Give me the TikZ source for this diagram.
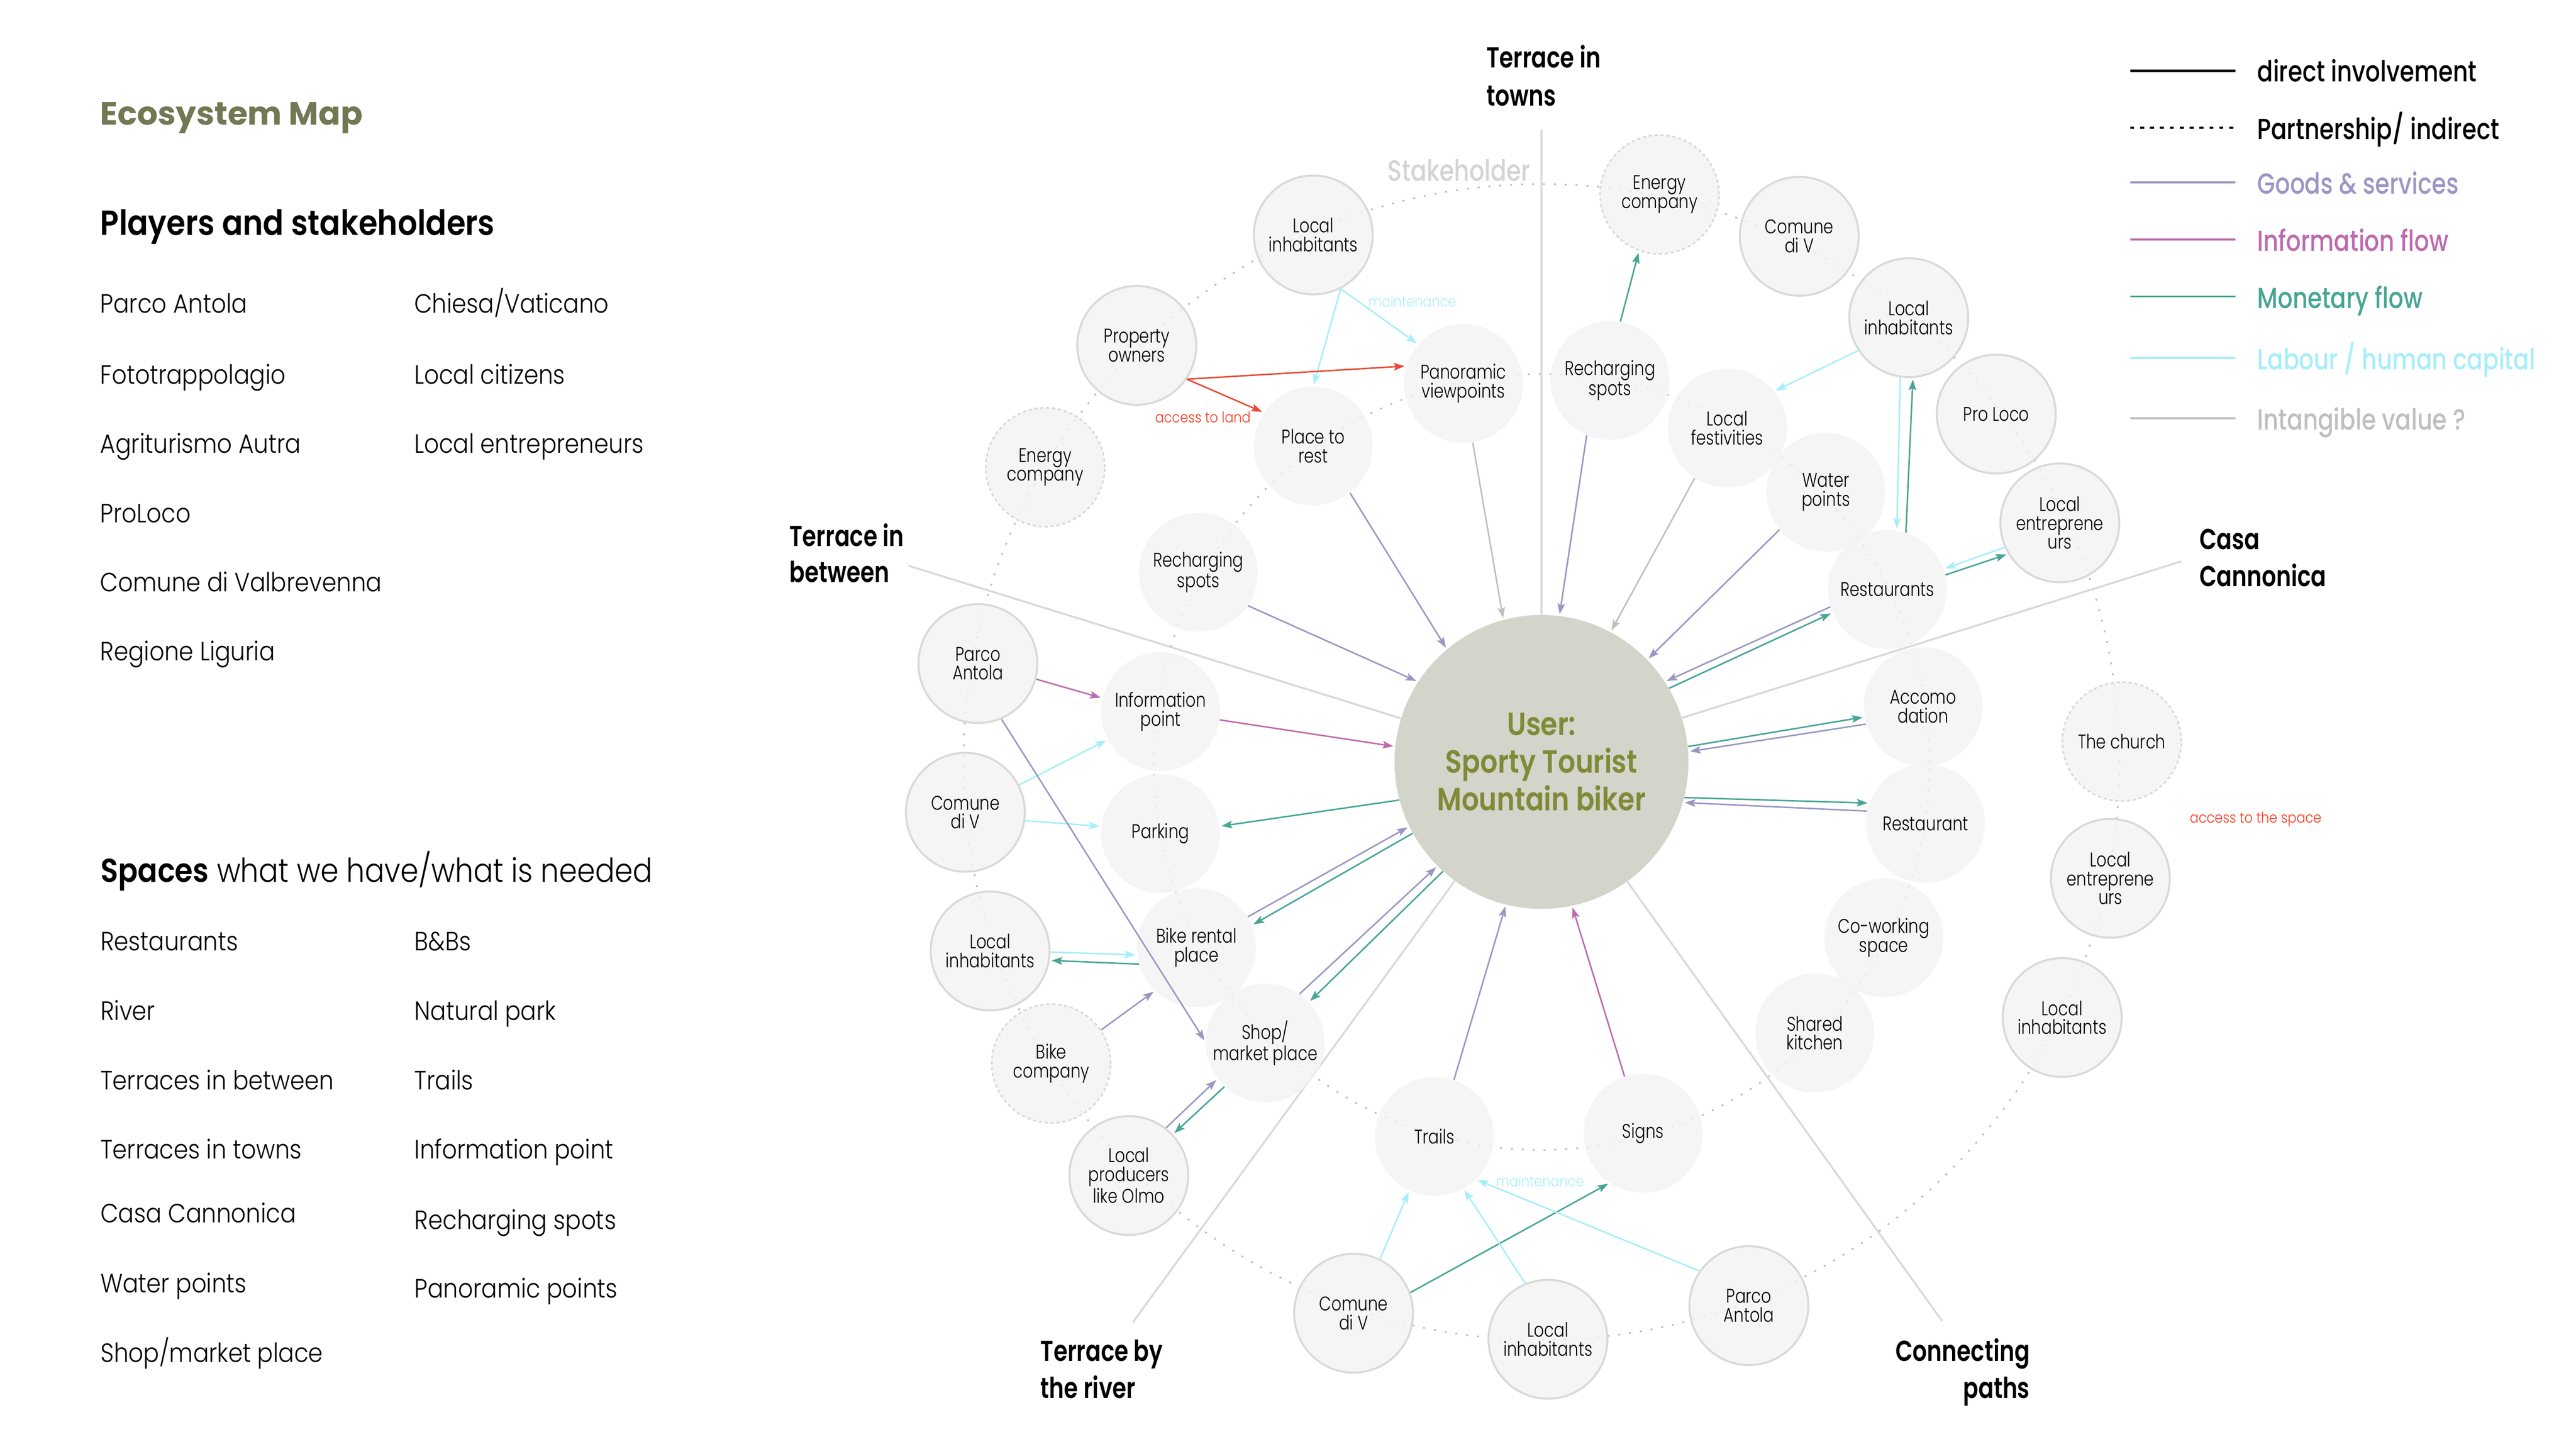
\documentclass[tikz,border=0pt]{standalone}
\usepackage{fontspec}
\setmainfont{Poppins}[UprightFont=* Light, BoldFont=* SemiBold, FakeStretch=0.88]
\newfontfamily\lgdfont{Poppins}[UprightFont=* Medium, FakeStretch=0.8]
\newfontfamily\hdfont{Poppins}[UprightFont=* SemiBold, FakeStretch=0.85]
\newfontfamily\zonefont{Poppins}[UprightFont=* SemiBold, FakeStretch=0.78]
\newfontfamily\spotfont{Poppins}[UprightFont=* Light, FakeStretch=0.8]
\newfontfamily\ttlfont{Poppins}[UprightFont=* Bold]
\usetikzlibrary{arrows.meta}

\definecolor{spotgray}{HTML}{F3F3F3}
\definecolor{rimgray}{HTML}{D9D9D9}
\definecolor{usergray}{HTML}{D3D4CA}
\definecolor{userolive}{HTML}{808A37}
\definecolor{titleolive}{HTML}{717853}
\definecolor{goodscol}{HTML}{9A97C4}
\definecolor{infocol}{HTML}{BD6BB0}
\definecolor{moneycol}{HTML}{46A594}
\definecolor{labourcol}{HTML}{A6EEFA}
\definecolor{intangcol}{HTML}{BFBFBF}
\definecolor{accesscol}{HTML}{EA4B35}
\definecolor{accesstxt}{HTML}{F53D20}
\definecolor{ringgray}{HTML}{BDBDBD}
\definecolor{sectorgray}{HTML}{DADADA}
\definecolor{stakegray}{HTML}{D4D4D4}

\begin{document}
\begin{tikzpicture}[x=1pt, y=-1pt, > = {Stealth[length=6.5pt,width=4.6pt,inset=1.3pt]},
    spot/.style = {circle, fill=spotgray, fill opacity=.8, text opacity=1, minimum size=72pt, inner sep=0pt, align=center, font=\spotfont\fontsize{12}{11.4}\selectfont},
    stake/.style = {spot, draw=rimgray, line width=1.2pt},
    maybe/.style = {spot, draw=rimgray, line width=1pt, dash pattern=on 2pt off 1.6pt},
    flow/.style = {line width=.9pt, ->, shorten >=1pt},
    goods/.style = {flow, goodscol}, info/.style = {flow, infocol}, money/.style = {flow, moneycol},
    labour/.style = {flow, labourcol}, intang/.style = {flow, intangcol}, access/.style = {flow, accesscol},
    ring/.style = {ringgray, line width=1pt, dash pattern=on 1.2pt off 5.4pt},
    sector/.style = {sectorgray, line width=1.2pt},
    note/.style = {inner sep=0pt, font=\fontsize{9}{11}\selectfont},
    txt/.style = {anchor=base west, inner sep=0pt, font=\fontsize{16}{19}\selectfont},
    head/.style = {anchor=base west, inner sep=0pt, font=\fontsize{21.1}{25}\selectfont},
    zone/.style = {inner sep=0pt, font=\zonefont\fontsize{17.5}{21}\selectfont},
    keyline/.style = {line width=1.1pt},
    lgd/.style = {anchor=base west, inner sep=0pt, font=\lgdfont\fontsize{17.6}{21}\selectfont}]

    \useasboundingbox (0,0) rectangle (1560,877.5);

    % left column
    \node[anchor=base west, inner sep=0pt, titleolive, font=\ttlfont\fontsize{19.6}{23}\selectfont] (eco) at (60.6,75.8) {Ecosystem Map};
    \node[head] (players) at (60.6,142.3) {\bfseries Players and stakeholders};
    \node[txt] (p1) at (60.6,189.6) {Parco Antola};
    \node[txt] (p2) at (60.6,232.6) {Fototrappolagio};
    \node[txt] (p3) at (60.6,274.4) {Agriturismo Autra};
    \node[txt] (p4) at (60.6,316.6) {ProLoco};
    \node[txt] (p5) at (60.6,358.4) {Comune di Valbrevenna};
    \node[txt] (p6) at (60.6,400) {Regione Liguria};
    \node[txt] (p7) at (250.7,189.6) {Chiesa/Vaticano};
    \node[txt] (p8) at (250.7,232.6) {Local citizens};
    \node[txt] (p9) at (250.7,274.4) {Local entrepreneurs};
    \node[head, font=\fontsize{20}{24}\selectfont] (spaces) at (60.7,534.3) {\bfseries Spaces\mdseries{} what we have/what is needed};
    \node[txt] (s1) at (60.7,575.8) {Restaurants};
    \node[txt] (s2) at (60.7,618) {River};
    \node[txt] (s3) at (60.7,660) {Terraces in between};
    \node[txt] (s4) at (60.7,701.9) {Terraces in towns};
    \node[txt] (s5) at (60.7,740.5) {Casa Cannonica};
    \node[txt] (s6) at (60.7,782.8) {Water points};
    \node[txt] (s7) at (60.7,825) {Shop/market place};
    \node[txt] (s8) at (250.9,575.8) {B\&Bs};
    \node[txt] (s9) at (250.9,618) {Natural park};
    \node[txt] (s10) at (250.9,660) {Trails};
    \node[txt] (s11) at (250.9,701.9) {Information point};
    \node[txt] (s12) at (250.9,744.5) {Recharging spots};
    \node[txt] (s13) at (250.9,786) {Panoramic points};

    % user
    \node[circle, fill=usergray, minimum size=178pt, inner sep=0pt, align=center, text=userolive, font=\hdfont\fontsize{19.4}{22.7}\selectfont] (ctr) at (933.5,461.5) {User:\\Sporty Tourist\\Mountain biker};

    % rings and sectors
    \draw[ring] (ctr) circle[radius=350pt];
    \draw[ring] (ctr) circle[radius=235pt];
    \coordinate (twn) at (933.5,78.6);
    \coordinate (btw) at (550,342.6);
    \coordinate (cas) at (1321,340);
    \coordinate (riv) at (686,801);
    \coordinate (pth) at (1176,800);
    \draw[sector] (twn) -- (ctr);
    \draw[sector] (btw) -- (ctr);
    \draw[sector] (cas) -- (ctr);
    \draw[sector] (riv) -- (ctr);
    \draw[sector] (pth) -- (ctr);
    \node[anchor=base west, inner sep=0pt, stakegray, font=\lgdfont\fontsize{17.8}{21}\selectfont] (stk) at (840.3,109.6) {Stakeholder};

    % zone labels
    \node[zone, anchor=base west] (z1) at (900,41) {Terrace in};
    \node[zone, anchor=base west] (z1b) at (900,64) {towns};
    \node[zone, anchor=base west] (z2) at (478,331) {Terrace in};
    \node[zone, anchor=base west] (z2b) at (478,352.6) {between};
    \node[zone, anchor=base west] (z3) at (1331.8,332.9) {Casa};
    \node[zone, anchor=base west] (z3b) at (1331.8,355.3) {Cannonica};
    \node[zone, anchor=base west] (z4) at (630,824.4) {Terrace by};
    \node[zone, anchor=base west] (z4b) at (630,847) {the river};
    \node[zone, anchor=base east] (z5) at (1229.4,824.4) {Connecting};
    \node[zone, anchor=base east] (z5b) at (1229.4,847) {paths};

    % stakeholders and spaces
    \node[stake] (li1) at (795.3,142.3) {Local\\inhabitants};
    \node[stake] (po) at (688.4,209.2) {Property\\owners};
    \node[maybe] (ec1) at (633,283) {Energy\\company};
    \node[spot] (pv) at (886.2,232.3) {Panoramic\\viewpoints};
    \node[spot] (pr) at (795.3,270.1) {Place to\\rest};
    \node[spot] (rs1) at (725.7,346.6) {Recharging\\spots};
    \node[stake] (pa1) at (592.2,401.9) {Parco\\Antola};
    \node[spot] (ip) at (702.8,431) {Information\\point};
    \node[stake] (cv1) at (584.6,492) {Comune\\di V};
    \node[spot] (pk) at (702.8,504.9) {Parking};
    \node[stake] (li2) at (599.6,576) {Local\\inhabitants};
    \node[spot] (br) at (724.6,574) {Bike rental\\place};
    \node[maybe] (bc) at (636.6,644.2) {Bike\\company};
    \node[spot] (sh) at (766.2,631.7) {Shop/\\market place};
    \node[stake] (lp) at (683.6,712) {Local\\producers\\like Olmo};
    \node[spot] (tr) at (868.7,688.3) {Trails};
    \node[spot] (sg) at (995,686.5) {Signs};
    \node[stake] (cv3) at (819.7,795.4) {Comune\\di V};
    \node[stake] (li4) at (937.4,811.2) {Local\\inhabitants};
    \node[stake] (pa2) at (1059.1,790.8) {Parco\\Antola};
    \node[spot] (sk) at (1099,625.7) {Shared\\kitchen};
    \node[spot] (cw) at (1140.8,568) {Co-working\\space};
    \node[spot] (rt) at (1166,498.8) {Restaurant};
    \node[spot] (ac) at (1164.6,428) {Accomo\\dation};
    \node[spot] (rts) at (1143,357) {Restaurants};
    \node[spot] (wp) at (1105.7,298.1) {Water\\points};
    \node[spot] (lf) at (1046,259.3) {Local\\festivities};
    \node[spot] (rs2) at (975,230.4) {Recharging\\spots};
    \node[maybe] (ec2) at (1005,117.8) {Energy\\company};
    \node[stake] (cv2) at (1089.6,143.1) {Comune\\di V};
    \node[stake] (li3) at (1155.9,192.4) {Local\\inhabitants};
    \node[stake] (pl) at (1208.9,250.8) {Pro Loco};
    \node[stake] (le1) at (1247.4,316.7) {Local\\entreprene\\urs};
    \node[maybe] (ch) at (1284.9,449.2) {The church};
    \node[stake] (le2) at (1278,532) {Local\\entreprene\\urs};
    \node[stake] (li5) at (1248.8,616.3) {Local\\inhabitants};

    % flows into the user
    \draw[goods] (pr.-52) -- (ctr.130);
    \draw[intang] (pv.-81) -- (ctr.105);
    \draw[goods] (rs2.-113) -- (ctr.83);
    \draw[intang] (lf.-123) -- (ctr.62);
    \draw[goods] (wp.-141) -- (ctr.44);
    \draw[goods] (rs1.-34) -- (ctr.147);
    \draw[info] (ip.-8) -- (ctr.174);
    \draw[money] (ctr.-165) -- (pk.7);
    \draw[goods] (br.31) -- (ctr.-154);
    \draw[money] (ctr.-151) -- (br.22);
    \draw[goods] (sh.55) -- (ctr.-135);
    \draw[money] (ctr.-132) -- (sh.43);
    \draw[goods] (tr.71) -- (ctr.-104);
    \draw[info] (sg.108) -- (ctr.-78);
    \draw[goods] (rts.-163) -- (ctr.33);
    \draw[money] (ctr.30) -- (rts.-157);
    \draw[money] (ctr.6) -- (ac.-170);
    \draw[goods] (ac.-163) -- (ctr.4);
    \draw[money] (ctr.-14) -- (rt.160);
    \draw[goods] (rt.168) -- (ctr.-16);

    % flows between the others
    \draw[info] (pa1.-15) -- (ip.167);
    \draw[labour] (cv1.27) -- (ip.-152);
    \draw[labour] (cv1.-8) -- (pk.173);
    \draw[goods] (pa1.-67) -- (sh.179);
    \draw[labour] (li2.-1) -- (br.-173);
    \draw[money] (br.-164) -- (li2.-9);
    \draw[goods] (bc.34) -- (br.-134);
    \draw[goods] (lp.52) -- (sh.-143);
    \draw[money] (sh.-133) -- (lp.43);
    \draw[labour] (cv3.64) -- (tr.-115);
    \draw[money] (cv3.20) -- (sg.-124);
    \draw[labour] (li4.112) -- (tr.-61);
    \draw[labour] (pa2.145) -- (tr.-46);
    \draw[labour] (li3.-98) -- (rts.81);
    \draw[money] (rts.72) -- (li3.-86);
    \draw[labour] (li3.-147) -- (lf.38);
    \draw[labour] (le1.-156) -- (rts.20);
    \draw[money] (rts.14) -- (le1.-149);
    \draw[money] (rs2.80) -- (ec2.-110);
    \draw[labour] (li1.-63) -- (pr.90);
    \draw[labour] (li1.-63) -- (pv.139);
    \draw[access] (po.-34) -- (pv.163);
    \draw[access] (po.-34) -- (pr.146);

    \node[note, labourcol] (mnt1) at (855.2,182.3) {maintenance};
    \node[note, labourcol] (mnt2) at (932.6,715.3) {maintenance};
    \node[note, accesstxt] (acl) at (728.5,252.8) {access to land};
    \node[note, accesstxt] (acs) at (1366,496.3) {access to the space};

    % legend
    \draw[keyline, black, line width=1.3pt] (1290,42.9) -- (1353.7,42.9);
    \draw[keyline, black, dash pattern=on 2.4pt off 3.6pt] (1290,77.4) -- (1353.7,77.4);
    \draw[keyline, goodscol] (1290,110.4) -- (1353.7,110.4);
    \draw[keyline, infocol] (1290,145) -- (1353.7,145);
    \draw[keyline, moneycol] (1290,179.5) -- (1353.7,179.5);
    \draw[keyline, labourcol] (1290,216.8) -- (1353.7,216.8);
    \draw[keyline, intangcol] (1290,253.3) -- (1353.7,253.3);
    \node[lgd] (k1) at (1366.8,49.6) {direct involvement};
    \node[lgd] (k2) at (1366.8,84.3) {Partnership/ indirect};
    \node[lgd, goodscol] (k3) at (1366.8,117.6) {Goods \& services};
    \node[lgd, infocol] (k4) at (1366.8,152) {Information flow};
    \node[lgd, moneycol] (k5) at (1366.8,186.7) {Monetary flow};
    \node[lgd, labourcol] (k6) at (1366.8,224) {Labour / human capital};
    \node[lgd, intangcol] (k7) at (1366.8,260.5) {Intangible value ?};

\end{tikzpicture}
\end{document}
